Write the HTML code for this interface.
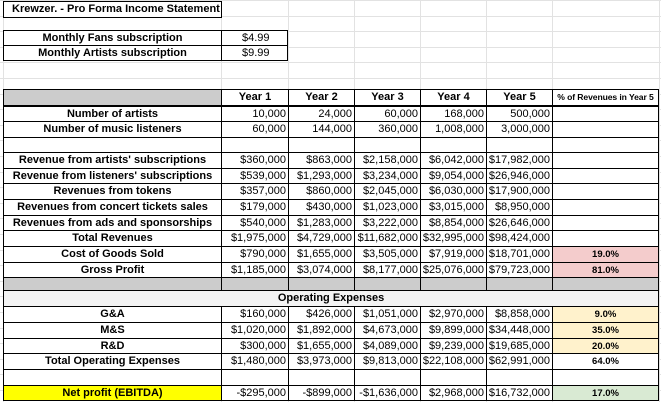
<!DOCTYPE html>
<html><head><meta charset="utf-8"><style>
html,body{margin:0;padding:0;background:#fff;width:661px;height:402px;overflow:hidden;position:relative;font-family:"Liberation Sans",Arial,sans-serif;font-size:11px;color:#000}
.c{position:absolute;box-sizing:border-box;white-space:nowrap;line-height:15px;overflow:hidden}
.g{position:absolute;background:#e2e2e2}
.b{font-weight:bold;text-align:center}
.r{text-align:right;padding-right:2px}
.p{text-align:center;font-weight:bold;font-size:9.5px}
</style></head><body>
<script>
const cols=[3,221,288,354,420,486,552,659];
const years=["Year 1","Year 2","Year 3","Year 4","Year 5"];
const rows=[
 {t:106,h:15,l:"Number of artists",v:["10,000","24,000","60,000","168,000","500,000"],p:""},
 {t:121,h:16,l:"Number of music listeners",v:["60,000","144,000","360,000","1,008,000","3,000,000"],p:""},
 {t:152,h:16,l:"Revenue from artists' subscriptions",v:["$360,000","$863,000","$2,158,000","$6,042,000","$17,982,000"],p:""},
 {t:168,h:15,l:"Revenue from listeners' subscriptions",v:["$539,000","$1,293,000","$3,234,000","$9,054,000","$26,946,000"],p:""},
 {t:183,h:16,l:"Revenues from tokens",v:["$357,000","$860,000","$2,045,000","$6,030,000","$17,900,000"],p:""},
 {t:199,h:16,l:"Revenues from concert tickets sales",v:["$179,000","$430,000","$1,023,000","$3,015,000","$8,950,000"],p:""},
 {t:215,h:15,l:"Revenues from ads and sponsorships",v:["$540,000","$1,283,000","$3,222,000","$8,854,000","$26,646,000"],p:""},
 {t:230,h:16,l:"Total Revenues",v:["$1,975,000","$4,729,000","$11,682,000","$32,995,000","$98,424,000"],p:""},
 {t:246,h:16,l:"Cost of Goods Sold",v:["$790,000","$1,655,000","$3,505,000","$7,919,000","$18,701,000"],p:"19.0%",pc:"#f4cccc"},
 {t:262,h:16,l:"Gross Profit",v:["$1,185,000","$3,074,000","$8,177,000","$25,076,000","$79,723,000"],p:"81.0%",pc:"#f4cccc"},
 {t:306,h:16,l:"G&A",v:["$160,000","$426,000","$1,051,000","$2,970,000","$8,858,000"],p:"9.0%",pc:"#fff2cc"},
 {t:322,h:16,l:"M&S",v:["$1,020,000","$1,892,000","$4,673,000","$9,899,000","$34,448,000"],p:"35.0%",pc:"#fff2cc"},
 {t:338,h:15,l:"R&D",v:["$300,000","$1,655,000","$4,089,000","$9,239,000","$19,685,000"],p:"20.0%",pc:"#fff2cc"},
 {t:353,h:16,l:"Total Operating Expenses",v:["$1,480,000","$3,973,000","$9,813,000","$22,108,000","$62,991,000"],p:"64.0%"},
 {t:369,h:16,l:"",v:["","","","",""],p:""},
 {t:385,h:15,l:"Net profit (EBITDA)",v:["-$295,000","-$899,000","-$1,636,000","$2,968,000","$16,732,000"],p:"17.0%",pc:"#d9ead3",lc:"#ffff00"}
];
function cell(x,y,w,h,txt,cls,bg,name,border){
 const d=document.createElement('div');
 d.className='c '+cls;
 d.style.left=x+'px';d.style.top=y+'px';d.style.width=w+'px';d.style.height=h+'px';
 d.style.border=border||'1px solid #000';
 if(bg)d.style.background=bg;
 d.textContent=txt;
 
 
 document.body.appendChild(d);return d;
}
for(let y=0;y<402;y+=15.6){const g=document.createElement('div');g.className='g';g.style.left='0';g.style.width='661px';g.style.top=Math.round(y)+'px';g.style.height='1px';


document.body.appendChild(g);}
[3,221,288,354,420,486,552,659].forEach(x=>{const g=document.createElement('div');g.className='g';g.style.left=x+'px';g.style.top='0';g.style.height='402px';g.style.width='1px';


document.body.appendChild(g);});
const tc=cell(3,1,219,17,"Krewzer. - Pro Forma Income Statement","b","#fff","title-cell");
tc.style.textAlign='left';tc.style.paddingLeft='8px';
cell(3,30,219,16,"Monthly Fans subscription","b","#fff","fans-label");
cell(221,30,67,16,"$4.99","","#fff","fans-price").style.paddingLeft='20px';
cell(3,45,219,16,"Monthly Artists subscription","b","#fff","artists-label");
cell(221,45,67,16,"$9.99","","#fff","artists-price").style.paddingLeft='20px';
cell(3,89,219,17,"","", "#cccccc","header-blank");
years.forEach((y,i)=>cell(cols[i+1],89,cols[i+2]-cols[i+1]+1,17,y,"b","#fff","header-year-"+(i+1)));
const hp=cell(552,89,107,17,"% of Revenues in Year 5","b","#fff","header-pct");
hp.style.fontSize='8.6px';hp.style.letterSpacing='-0.1px';
rows.forEach((r,ri)=>{
 cell(3,r.t,219,r.h+1,r.l,"b",r.lc||"#fff","row-label");
 r.v.forEach((v,i)=>cell(cols[i+1],r.t,cols[i+2]-cols[i+1]+1,r.h+1,v,"r","#fff","value-y"+(i+1)));
 cell(552,r.t,107,r.h+1,r.p,"p",r.pc||"#fff","pct-cell");
});
cell(3,137,219,16,"","","#fff","spacer");
for(let i=0;i<5;i++)cell(cols[i+1],137,cols[i+2]-cols[i+1]+1,16,"","","#fff","spacer");
cell(552,137,107,16,"","","#fff","spacer");
cell(3,277,219,14,"","","#cccccc","separator");
for(let i=0;i<5;i++)cell(cols[i+1],277,cols[i+2]-cols[i+1]+1,14,"","","#cccccc","separator");
cell(552,277,107,14,"","","#cccccc","separator");
cell(3,290,656,17,"Operating Expenses","b","#f3f3f3","opex-header");
</script>
</body></html>
